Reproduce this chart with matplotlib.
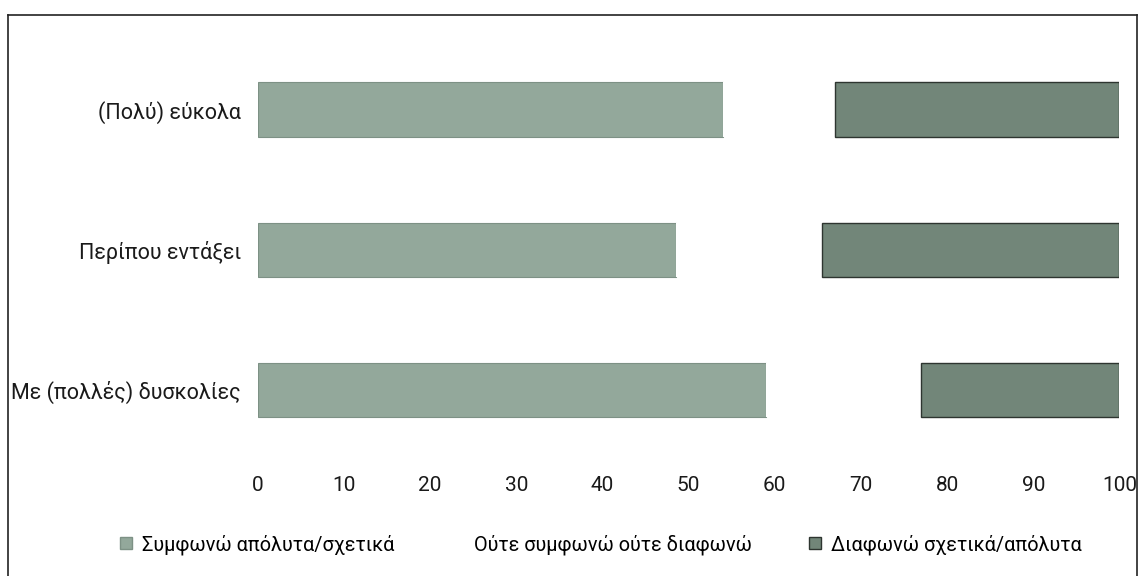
import matplotlib.pyplot as plt
import numpy as np
from matplotlib.lines import Line2D

plt.rcParams['font.family'] = ['Roboto', 'DejaVu Sans']

categories = ['Με (πολλές) δυσκολίες', 'Περίπου εντάξει', '(Πολύ) εύκολα']
agree = [59, 48.5, 54]
neutral = [18, 17, 13]
disagree = [23, 34.5, 33]
series_names = ['Συμφωνώ απόλυτα/σχετικά', 'Ούτε συμφωνώ ούτε διαφωνώ', 'Διαφωνώ σχετικά/απόλυτα']
xticks = [0, 10, 20, 30, 40, 50, 60, 70, 80, 90, 100]

fig = plt.figure(figsize=(11.4, 5.76), dpi=100)
ax = fig.add_axes([0.226, 0.201, 0.756, 0.730])

y = np.arange(len(categories))
h = 0.39
left2 = np.array(agree)
left3 = left2 + np.array(neutral)
ax.barh(y, agree, height=h, color='#93a89b', edgecolor='#7d9185', linewidth=0.8, label=series_names[0])
ax.barh(y, neutral, left=left2, height=h, color='white', edgecolor='none', label=series_names[1])
ax.barh(y, disagree, left=left3, height=h, color='#728679', edgecolor='#2e3530', linewidth=1.0, label=series_names[2])

ax.set_xlim(0, 100)
ax.set_ylim(-0.5, 2.5)
ax.set_yticks(y)
ax.set_yticklabels(categories, fontsize=15.5, color='#1a1a1a')
ax.set_xticks(xticks)
ax.set_xticklabels([str(t) for t in xticks], fontsize=15, color='#1a1a1a')
ax.tick_params(axis='both', length=0)
ax.tick_params(axis='x', pad=11)
ax.tick_params(axis='y', pad=12)
for s in ax.spines.values():
    s.set_visible(False)

handles = [
    plt.Rectangle((0, 0), 1, 1, facecolor='#93a89b', edgecolor='#7d9185'),
    plt.Rectangle((0, 0), 1, 1, facecolor='white', edgecolor='none'),
    plt.Rectangle((0, 0), 1, 1, facecolor='#728679', edgecolor='#2e3530'),
]
fig.legend(handles, series_names, loc='center', bbox_to_anchor=(0.527, 0.055), ncol=3,
           frameon=False, fontsize=14.3, handlelength=0.6, handleheight=0.6,
           handletextpad=0.5, columnspacing=2.9)

# frame around the figure
x0, x1, ytop = 8 / 1140, 1137 / 1140, 1 - 15 / 576
fig.add_artist(Line2D([x0, x0], [0, ytop], color='#222222', lw=1.2, transform=fig.transFigure))
fig.add_artist(Line2D([x0, x1], [ytop, ytop], color='#222222', lw=1.2, transform=fig.transFigure))
fig.add_artist(Line2D([x1, x1], [0, ytop], color='#222222', lw=1.2, transform=fig.transFigure))

fig.savefig('out.png', dpi=100)
